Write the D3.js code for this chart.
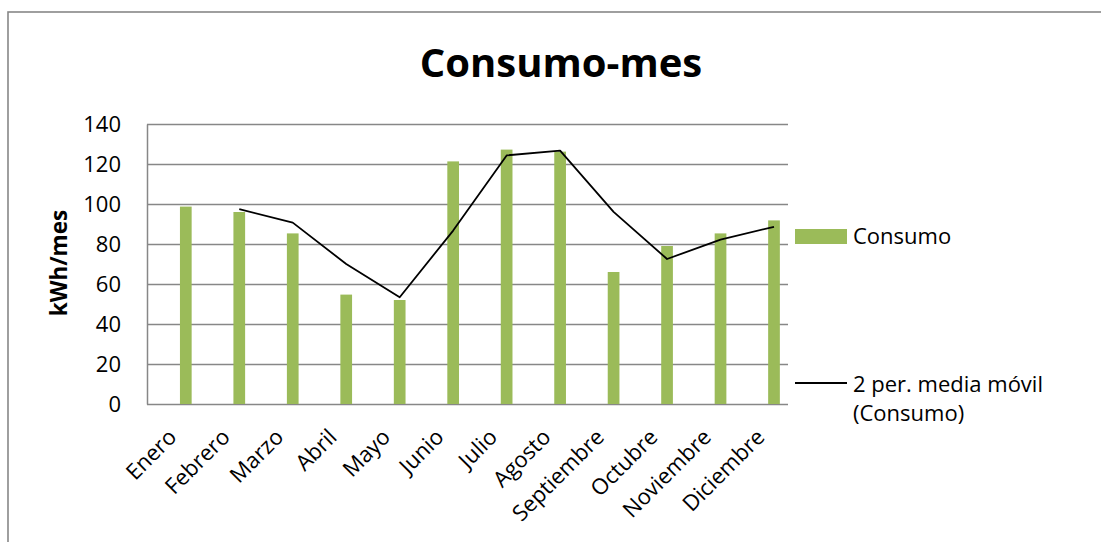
<!DOCTYPE html>
<html>
<head>
<meta charset="utf-8">
<script src="https://cdn.jsdelivr.net/npm/d3@7"></script>
<style>
  html, body { margin: 0; padding: 0; background: #fff; }
  svg { display: block; }
  text { font-family: "Open Sans", "DejaVu Sans", sans-serif; fill: #000; }
</style>
</head>
<body>
<svg id="chart" width="1101" height="542"></svg>
<script>
// Monthly consumption (kWh/mes)
const meses = ["Enero", "Febrero", "Marzo", "Abril", "Mayo", "Junio", "Julio",
               "Agosto", "Septiembre", "Octubre", "Noviembre", "Diciembre"];
const consumo = [98.7, 96.0, 85.3, 54.7, 52.0, 121.3, 127.2, 126.2, 66.0, 79.0, 85.3, 91.8];
// 2-period moving average trend line (no value for the first month)
const mediaMovil = [null, 97.4, 90.7, 70.0, 53.4, 86.7, 124.3, 126.7, 96.1, 72.5, 82.2, 88.6];
const yTicks = [0, 20, 40, 60, 80, 100, 120, 140];

const titulo = "Consumo-mes";
const tituloEje = "kWh/mes";
const leyendaBarras = "Consumo";
const leyendaLinea = ["2 per. media móvil", "(Consumo)"];

const svg = d3.select("#chart");
const plot = { left: 147, right: 788, top: 124, bottom: 404 };
const verde = "#9BBB59";
const gris = "#878787";
const barW = 11.7;

// chart frame
svg.append("rect")
  .attr("x", 8).attr("y", 12)
  .attr("width", 1200).attr("height", 600)
  .attr("fill", "none").attr("stroke", gris).attr("stroke-width", 1.6);

const x = d3.scalePoint().domain(meses).range([185.8, 774]);
const y = d3.scaleLinear().domain([0, 140]).range([plot.bottom, plot.top]);

// y axis with gridlines
const yAxis = svg.append("g")
  .attr("transform", `translate(${plot.left},0)`)
  .call(d3.axisLeft(y).tickValues(yTicks)
    .tickSize(-(plot.right - plot.left)).tickSizeOuter(0).tickPadding(26));
yAxis.selectAll("line").attr("stroke", gris).attr("stroke-width", 1.5);
yAxis.select(".domain").attr("stroke", gris).attr("stroke-width", 1.5);
yAxis.selectAll("text")
  .style("font-family", "'Open Sans', sans-serif")
  .style("font-size", "22px").attr("fill", "#000").attr("dy", "0.36em");

// bars
svg.append("g").selectAll("rect")
  .data(consumo)
  .join("rect")
  .attr("x", (d, i) => x(meses[i]) - barW / 2)
  .attr("y", d => y(d))
  .attr("width", barW)
  .attr("height", d => y(0) - y(d))
  .attr("fill", verde);

// moving average line
const linea = d3.line()
  .defined(d => d != null)
  .x((d, i) => x(meses[i]))
  .y(d => y(d));
svg.append("path")
  .datum(mediaMovil)
  .attr("d", linea)
  .attr("fill", "none")
  .attr("stroke", "#000")
  .attr("stroke-width", 1.8)
  .attr("stroke-linejoin", "round");

// x axis labels, rotated
const xAxis = svg.append("g")
  .attr("transform", `translate(0,${plot.bottom})`)
  .call(d3.axisBottom(x).tickSize(0));
xAxis.select(".domain").remove();
xAxis.selectAll("text")
  .style("font-family", "'Open Sans', sans-serif")
  .style("font-size", "22px").attr("fill", "#000")
  .attr("text-anchor", "end")
  .attr("x", 0).attr("y", 0).attr("dy", 0)
  .attr("transform", "translate(-8.5,34.5) rotate(-45)");

// title
svg.append("text")
  .attr("x", 561).attr("y", 77)
  .attr("text-anchor", "middle")
  .style("font-size", "40px").style("font-weight", "bold")
  .text(titulo);

// y axis title
svg.append("text")
  .attr("transform", "translate(67,263) rotate(-90)")
  .attr("text-anchor", "middle")
  .style("font-size", "22.5px").style("font-weight", "bold")
  .text(tituloEje);

// legend
const leg = svg.append("g");
leg.append("rect")
  .attr("x", 795).attr("y", 229).attr("width", 52).attr("height", 15)
  .attr("fill", verde);
leg.append("text")
  .attr("x", 853).attr("y", 244)
  .style("font-size", "22px")
  .text(leyendaBarras);
leg.append("line")
  .attr("x1", 795).attr("x2", 847).attr("y1", 383).attr("y2", 383)
  .attr("stroke", "#000").attr("stroke-width", 1.8);
leg.append("text")
  .attr("x", 853).attr("y", 392)
  .style("font-size", "22px")
  .selectAll("tspan")
  .data(leyendaLinea)
  .join("tspan")
  .attr("x", 853)
  .attr("dy", (d, i) => i === 0 ? 0 : 29)
  .text(d => d);
</script>
</body>
</html>
